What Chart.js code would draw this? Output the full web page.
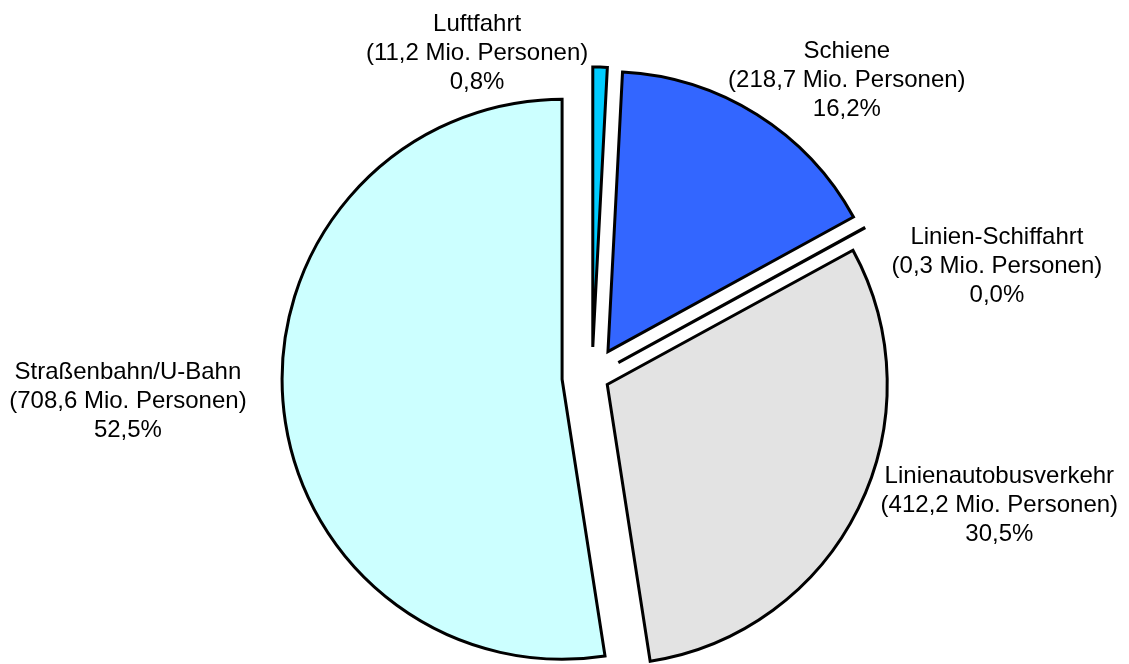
<!DOCTYPE html>
<html lang="de">

<head>
    <meta charset="UTF-8">
    <title>Personenverkehr</title>
    <script src="https://cdn.jsdelivr.net/npm/chart.js"></script>
    <style>
        body {
            margin: 0;
            background: #fff;
        }

        .grafico {
            width: 1129px;
            height: 664px;
        }
    </style>
</head>

<body>
    <div class="grafico">
        <canvas id="graficoTorte"></canvas>
    </div>

<script>
    // Daten (Mio. Personen)
    const categories = ['Luftfahrt', 'Schiene', 'Linien-Schiffahrt', 'Linienautobusverkehr', 'Straßenbahn/U-Bahn'];
    const personen = [11.2, 218.7, 0.3, 412.2, 708.6];

    // Aussehen
    const colors = ['#00CCFF', '#3366FF', '#FFFFFF', '#E3E3E3', '#CCFFFF'];
    const explode = [120, 120, 120, 68, 120];
    const labelShift = [[-123, -7], [90, -27], [133, 45], [141, 4], [-155, 7]];
    const radius = 280;

    function fmt(n) {
        return n.toFixed(1).replace('.', ',');
    }

    const total = personen.reduce((a, b) => a + b, 0);

    // Beschriftung + gleicher Radius fuer alle Stuecke
    const labelsPlugin = {
        id: 'labelsPlugin',
        afterDatasetUpdate(chart, args) {
            args.meta.data.forEach((arc, i) => {
                // chart.js vergroessert Stuecke mit offset und kuerzt den Bogen, hier wieder ausgleichen
                const fix = 1 - Math.sin(Math.min(Math.PI, arc.circumference));
                const o = explode[i] / 4 * fix;
                arc.outerRadius = radius - o;
                const extra = o / (2 * Math.PI * radius);
                arc.startAngle -= extra;
                arc.endAngle += extra;
            });
        },
        afterDatasetsDraw(chart) {
            const c = chart.ctx;
            const meta = chart.getDatasetMeta(0);
            c.save();
            c.font = '24px "Liberation Sans", Arial, sans-serif';
            c.fillStyle = '#000';
            c.textAlign = 'center';
            c.textBaseline = 'alphabetic';
            meta.data.forEach((arc, i) => {
                const mid = (arc.startAngle + arc.endAngle) / 2;
                const d = explode[i] / 4 + radius;
                const x = arc.x + Math.cos(mid) * d + labelShift[i][0];
                const y = arc.y + Math.sin(mid) * d + labelShift[i][1];
                const lines = [
                    categories[i],
                    '(' + fmt(personen[i]) + ' Mio. Personen)',
                    fmt(personen[i] / total * 100) + '%'
                ];
                lines.forEach((t, k) => c.fillText(t, x, y + (k - 1) * 29));
            });
            c.restore();
        }
    };

    const ctx = document.getElementById('graficoTorte').getContext('2d');

    const torte = new Chart(ctx, {
        type: 'pie',
        data: {
            labels: categories,
            datasets: [{
                data: personen,
                backgroundColor: colors,
                borderColor: '#000',
                borderWidth: 3,
                borderJoinStyle: 'miter',
                offset: explode
            }]
        },
        options: {
            responsive: true,
            maintainAspectRatio: false,
            animation: false,
            events: [],
            radius: radius,
            layout: {
                padding: { left: 55, top: 90, right: 0, bottom: 0 }
            },
            plugins: {
                legend: { display: false },
                tooltip: { enabled: false }
            }
        },
        plugins: [labelsPlugin]
    });
</script>
</body>

</html>
